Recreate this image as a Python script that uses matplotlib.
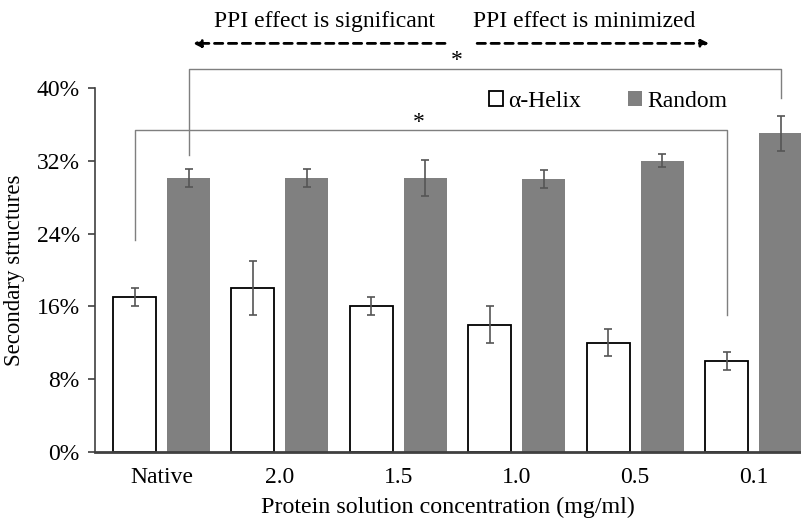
import numpy as np
import matplotlib.pyplot as plt
from matplotlib.ticker import FuncFormatter

categories = ['Native', '2.0', '1.5', '1.0', '0.5', '0.1']
helix = [17.0, 18.0, 16.0, 14.0, 12.0, 10.0]
helix_err = [1.0, 3.0, 1.0, 2.0, 1.5, 1.0]
random_ = [30.1, 30.1, 30.1, 30.0, 32.0, 35.0]
random_err = [1.0, 1.0, 2.0, 1.0, 0.7, 1.9]

plt.rcParams['font.family'] = ['Liberation Serif', 'DejaVu Serif']

fig = plt.figure(figsize=(8.01, 5.24), dpi=100)
ax = fig.add_axes([0.1186, 0.1374, 0.8814, 0.6947])

x = np.arange(len(categories))
w = 0.363
off = 0.228

b1 = ax.bar(x - off, helix, w, color='white', edgecolor='black', linewidth=1.3,
            yerr=helix_err, error_kw=dict(ecolor='#555555', elinewidth=1.2, capsize=3, capthick=1.2))
b2 = ax.bar(x + off, random_, w, color='#808080', edgecolor='none',
            yerr=random_err, error_kw=dict(ecolor='#555555', elinewidth=1.2, capsize=3, capthick=1.2))

ax.set_xlim(-0.562, 5.40)
ax.set_ylim(0, 40)
ax.set_yticks([0, 8, 16, 24, 32, 40])
ax.yaxis.set_major_formatter(FuncFormatter(lambda v, p: f'{v:.0f}%'))
ax.set_xticks(x)
ax.set_xticklabels(categories)
ax.tick_params(axis='x', length=0, labelsize=17, pad=11)
ax.tick_params(axis='y', length=5, width=1.2, color='#404040', labelsize=17, pad=6)

for s in ['top', 'right']:
    ax.spines[s].set_visible(False)
ax.spines['left'].set_color('#404040')
ax.spines['left'].set_linewidth(1.2)
ax.spines['bottom'].set_color('#404040')
ax.spines['bottom'].set_linewidth(2)

ax.set_xlabel('Protein solution concentration (mg/ml)', fontsize=17.3, labelpad=6)
ax.set_ylabel('Secondary structures', fontsize=16.5, labelpad=8)

# significance brackets
bc = '#7f7f7f'
ax.plot([0 + off, 0 + off, 5 + off, 5 + off], [32.6, 42.1, 42.1, 38.9], color=bc, lw=1, clip_on=False)
ax.text(2.49, 41.9, '*', ha='center', va='bottom', fontsize=17, clip_on=False)
ax.plot([0 - off, 0 - off, 5 - off, 5 - off], [23.3, 35.4, 35.4, 15.1], color=bc, lw=1, clip_on=False)
ax.text(2.17, 35.1, '*', ha='center', va='bottom', fontsize=17, clip_on=False)

# PPI annotations
arrow = dict(arrowstyle='-|>', color='black', lw=2, linestyle=(0, (3, 2)),
             mutation_scale=11, shrinkA=0, shrinkB=0)
ax.annotate('', xy=(0.266, 44.9), xytext=(2.394, 44.9), arrowprops=arrow, annotation_clip=False)
ax.annotate('', xy=(4.624, 44.9), xytext=(2.665, 44.9), arrowprops=arrow, annotation_clip=False)
ax.text(1.38, 47.3, 'PPI effect is significant', ha='center', va='center', fontsize=17)
ax.text(3.57, 47.3, 'PPI effect is minimized', ha='center', va='center', fontsize=17)

ax.legend([b1, b2], ['α-Helix', 'Random'], loc='center', bbox_to_anchor=(0.727, 0.964), ncol=2,
          frameon=False, fontsize=17, handlelength=0.6, handleheight=0.6,
          handletextpad=0.2, columnspacing=2.0)

fig.savefig('out.png', dpi=100)
